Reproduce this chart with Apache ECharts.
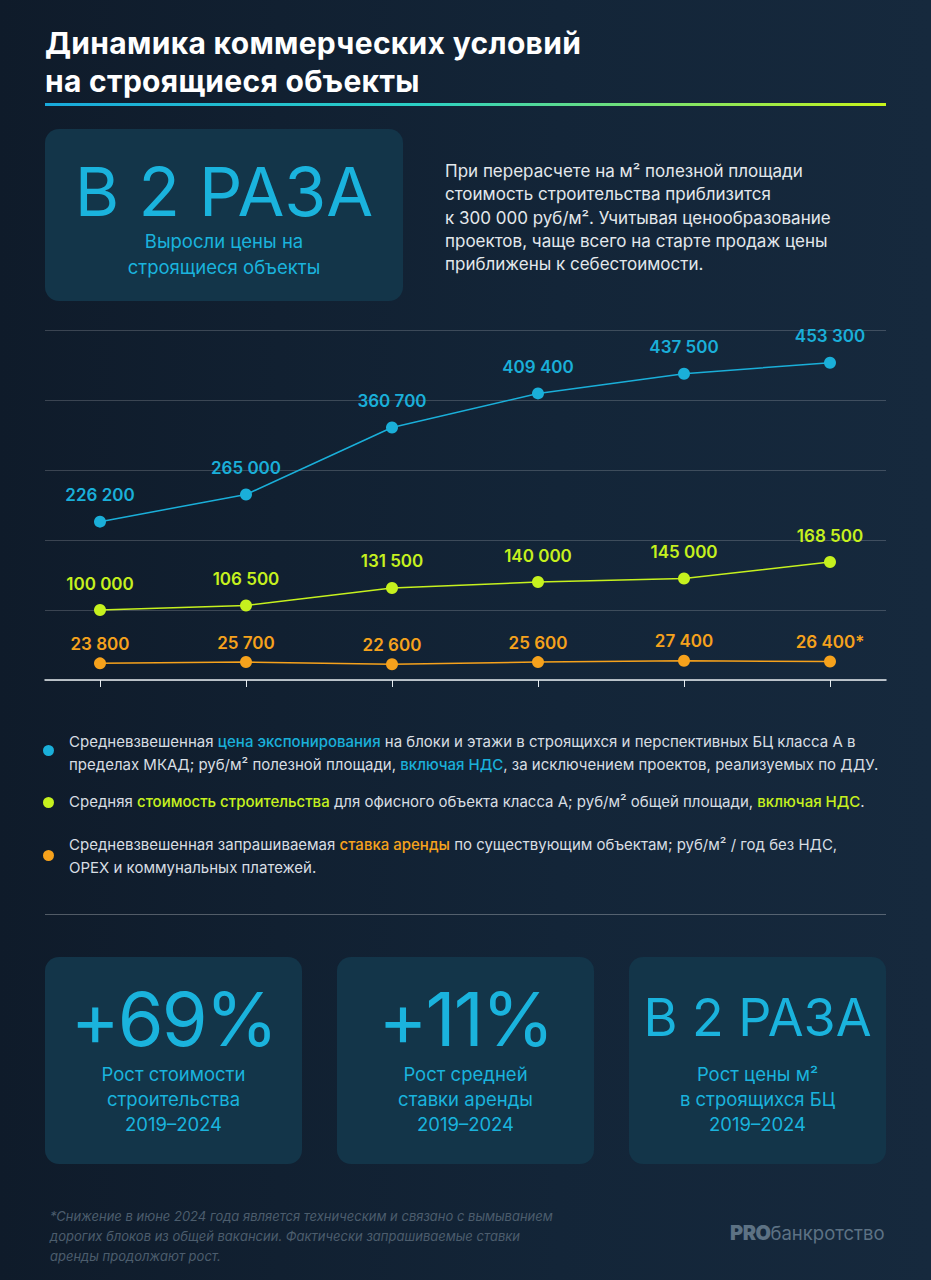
<!DOCTYPE html>
<html lang="ru">
<head>
<meta charset="utf-8">
<script src="https://cdn.jsdelivr.net/npm/echarts@6/dist/echarts.min.js"></script>
<style>
  html, body { margin:0; padding:0; }
  body { width:931px; height:1280px; position:relative; overflow:hidden;
    background: linear-gradient(90deg, #0f1b2a 0%, #132538 60%, #16293d 100%);
    font-family: Inter, "Open Sans", Roboto, sans-serif; color:#fff; }
  .abs { position:absolute; }
  #title { left:45px; top:24px; font-size:30px; font-weight:700; line-height:38px; letter-spacing:0.3px; color:#fff; }
  #rule { left:45px; top:103px; width:841px; height:3px; background:linear-gradient(90deg,#18a9dc 0%, #2bd0c4 45%, #c8f41a 100%); }
  .card { background:#133549; border-radius:14px; text-align:center; color:#1ab3dd; }
  #topcard { left:45px; top:129px; width:358px; height:172px; }
  #topcard .big { position:absolute; left:0; right:0; top:22px; font-size:68px; line-height:80px; font-weight:400; }
  #topcard .sub { position:absolute; left:0; right:0; top:100px; font-size:18.5px; line-height:25.5px; }
  #para { left:445px; top:160px; font-size:17px; line-height:23.3px; color:#e3e8ec; }
  #chart { left:0; top:300px; width:931px; height:420px; }
  .leg { left:69px; font-size:15px; line-height:22.5px; color:#d8dee3; }
  .dot { width:11px; height:11px; border-radius:50%; left:43px; }
  .hl { font-weight:500; }
  #divider { left:45px; top:914px; width:841px; height:1px; background:rgba(255,255,255,0.28); }
  .sc { top:957px; width:257px; height:207px; }
  .sc .big { position:absolute; left:0; right:0; top:25px; font-size:74px; line-height:74px; font-weight:400; letter-spacing:-2px; }
  .sc .big.small { font-size:52px; line-height:60px; top:31px; letter-spacing:0; }
  .sc .sub { position:absolute; left:0; right:0; top:105px; font-size:18.5px; line-height:25px; }
  #foot { left:50px; top:1206px; font-size:13px; line-height:20px; font-style:italic; color:#4c5d6d; }
  #logo { left:730px; top:1221px; color:#5d7284; font-size:18.5px; }
  #logo b { font-weight:900; font-size:20px; letter-spacing:-0.5px; }
</style>
</head>
<body>
<div id="title" class="abs">Динамика коммерческих условий<br>на строящиеся объекты</div>
<div id="rule" class="abs"></div>

<div id="topcard" class="abs card">
  <div class="big">В 2 РАЗА</div>
  <div class="sub">Выросли цены на<br>строящиеся объекты</div>
</div>
<div id="para" class="abs">При перерасчете на м² полезной площади<br>стоимость строительства приблизится<br>к 300 000 руб/м². Учитывая ценообразование<br>проектов, чаще всего на старте продаж цены<br>приближены к себестоимости.</div>

<div id="chart" class="abs"></div>

<div id="legend"></div>
<div id="divider" class="abs"></div>

<div class="abs card sc" style="left:45px"><div class="big">+69%</div><div class="sub">Рост стоимости<br>строительства<br>2019–2024</div></div>
<div class="abs card sc" style="left:337px"><div class="big">+11%</div><div class="sub">Рост средней<br>ставки аренды<br>2019–2024</div></div>
<div class="abs card sc" style="left:629px"><div class="big small">В 2 РАЗА</div><div class="sub">Рост цены м²<br>в строящихся БЦ<br>2019–2024</div></div>

<div id="foot" class="abs">*Снижение в июне 2024 года является техническим и связано с вымыванием<br>дорогих блоков из общей вакансии. Фактически запрашиваемые ставки<br>аренды продолжают рост.</div>
<div id="logo" class="abs"><b>PRO</b>банкротство</div>

<script>
// ---- data ----
const categories = ['2019', '2020', '2021', '2022', '2023', '2024'];
const priceValues = [226200, 265000, 360700, 409400, 437500, 453300];   // цена экспонирования
const costValues  = [100000, 106500, 131500, 140000, 145000, 168500];   // стоимость строительства
const rentValues  = [23800, 25700, 22600, 25600, 27400, 26400];         // ставка аренды
const rentNotes   = ['', '', '', '', '', '*'];
const yTicks = [0, 100000, 200000, 300000, 400000, 500000];

const seriesNames = ['Цена экспонирования', 'Стоимость строительства', 'Ставка аренды'];
const colors = ['#1aafd9', '#c6f11e', '#f6a21c'];

// ---- legend (HTML) ----
const legendItems = [
  { top: 731, dotTop: 745, html: 'Средневзвешенная <span class="hl" style="color:' + colors[0] + '">цена экспонирования</span> на блоки и этажи в строящихся и перспективных БЦ класса А в<br>пределах МКАД; руб/м² полезной площади, <span class="hl" style="color:' + colors[0] + '">включая НДС</span>, за исключением проектов, реализуемых по ДДУ.' },
  { top: 791, dotTop: 797, html: 'Средняя <span class="hl" style="color:' + colors[1] + '">стоимость строительства</span> для офисного объекта класса А; руб/м² общей площади, <span class="hl" style="color:' + colors[1] + '">включая НДС</span>.' },
  { top: 834, dotTop: 850, html: 'Средневзвешенная запрашиваемая <span class="hl" style="color:' + colors[2] + '">ставка аренды</span> по существующим объектам; руб/м² / год без НДС,<br>OPEX и коммунальных платежей.' }
];
const legendEl = document.getElementById('legend');
legendItems.forEach((it, i) => {
  const d = document.createElement('div');
  d.className = 'abs dot'; d.style.top = it.dotTop + 'px'; d.style.background = colors[i];
  legendEl.appendChild(d);
  const t = document.createElement('div');
  t.className = 'abs leg'; t.style.top = it.top + 'px'; t.innerHTML = it.html;
  legendEl.appendChild(t);
});

// ---- chart ----
const fmt = v => String(v).replace(/\B(?=(\d{3})+(?!\d))/g, ' ');
const toPairs = arr => arr.map((v, i) => [i, v]);
const chart = echarts.init(document.getElementById('chart'), null, { renderer: 'svg' });

function lineSeries(name, values, color, labelDist, notes) {
  return {
    name: name, type: 'line', data: toPairs(values),
    symbol: 'circle', symbolSize: 12,
    itemStyle: { color: color },
    lineStyle: { color: color, width: 1.5 },
    label: {
      show: true, position: 'top', distance: labelDist,
      color: color, fontSize: 17, fontWeight: 600, fontFamily: 'Inter, sans-serif',
      formatter: p => fmt(p.value[1]) + (notes ? notes[p.dataIndex] : '')
    },
    emphasis: { disabled: true },
    animation: false
  };
}

chart.setOption({
  backgroundColor: 'transparent',
  grid: { left: 45, right: 45, top: 30, bottom: 40 },
  xAxis: {
    type: 'value', min: -55 / 146, max: 5 + 56 / 146,
    axisLine: { show: true, lineStyle: { color: '#e6ecf0', width: 1.5 } },
    axisTick: { show: true, customValues: categories.map((c, i) => i), length: 7, lineStyle: { color: '#e6ecf0', width: 1 } },
    axisLabel: { show: false },
    splitLine: { show: false }
  },
  yAxis: {
    type: 'value', min: yTicks[0], max: yTicks[yTicks.length - 1], interval: 100000,
    axisLine: { show: false }, axisTick: { show: false }, axisLabel: { show: false },
    splitLine: { show: true, lineStyle: { color: 'rgba(255,255,255,0.18)', width: 1 } }
  },
  series: [
    lineSeries(seriesNames[0], priceValues, colors[0], 12),
    lineSeries(seriesNames[1], costValues, colors[1], 12),
    lineSeries(seriesNames[2], rentValues, colors[2], 5, rentNotes)
  ]
});
</script>
</body>
</html>
